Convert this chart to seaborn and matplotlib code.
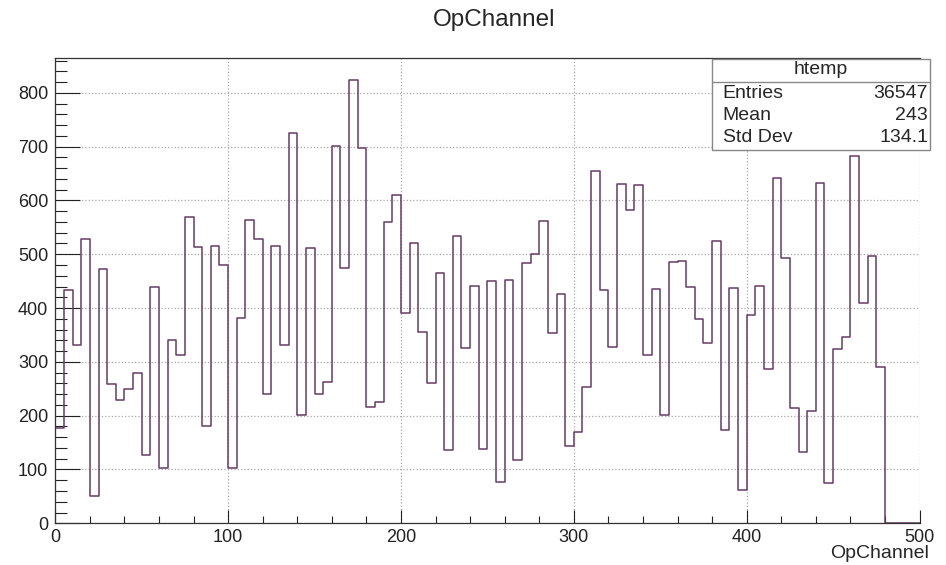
import numpy as np
import pandas as pd
import seaborn as sns
import matplotlib.pyplot as plt
from matplotlib.patches import Rectangle
from matplotlib.ticker import MultipleLocator

# bin contents of OpChannel, 5 channels per bin, 0..500
bin_width = 5
bin_low = np.arange(0, 500, bin_width)
counts = [
    178, 434, 331, 529, 51, 473, 259, 230, 250, 280,
    126, 439, 103, 340, 312, 569, 513, 181, 516, 480,
    103, 381, 564, 529, 241, 515, 331, 725, 201, 511,
    241, 263, 702, 475, 823, 698, 217, 226, 560, 611,
    391, 520, 355, 260, 465, 137, 533, 325, 441, 139,
    451, 76, 452, 118, 483, 501, 562, 353, 427, 144,
    169, 254, 654, 433, 327, 631, 582, 629, 313, 436,
    201, 486, 488, 439, 379, 335, 525, 173, 438, 61,
    388, 441, 287, 642, 493, 215, 132, 209, 632, 75,
    324, 346, 683, 410, 496, 290, 0, 0, 0, 0,
]
stat_names = ["Entries", "Mean", "Std Dev"]
stat_values = ["36547", "243", "134.1"]

hist_df = pd.DataFrame({"OpChannel": bin_low + bin_width / 2, "count": counts})

sns.set_style("ticks")
plt.rcParams['font.family'] = ['Liberation Sans', 'DejaVu Sans']

fig = plt.figure(figsize=(9.46, 5.65), dpi=100)
ax = fig.add_axes([55.3 / 946, 1 - 523.3 / 565, 864.2 / 946, (523.3 - 58.3) / 565])

# bins passed as a list: seaborn compares bins == "auto" when weights are used
sns.histplot(data=hist_df, x="OpChannel", weights="count",
             bins=list(range(0, 500 + bin_width, bin_width)),
             element="step", fill=False, color="#673a67", linewidth=1.1, ax=ax)

ax.set_xlim(0, 500)
ax.set_ylim(0, 1.05 * max(counts))
ax.set_xlabel("")
ax.set_ylabel("")

ax.xaxis.set_major_locator(MultipleLocator(100))
ax.xaxis.set_minor_locator(MultipleLocator(20))
ax.yaxis.set_major_locator(MultipleLocator(100))
ax.yaxis.set_minor_locator(MultipleLocator(20))

ax.tick_params(axis="both", which="both", direction="in", colors="#222222",
               labelsize=13, width=0.8)
ax.tick_params(axis="y", which="major", length=18, pad=5)
ax.tick_params(axis="y", which="minor", length=8.5)
ax.tick_params(axis="x", which="major", length=9.5, pad=4)
ax.tick_params(axis="x", which="minor", length=5)

ax.grid(True, which="major", linestyle=":", color="#a8a8a8", linewidth=0.9)
ax.set_axisbelow(True)

sns.despine(ax=ax, top=False, right=True)
for s in ("left", "bottom", "top"):
    ax.spines[s].set_color("#333333")
    ax.spines[s].set_linewidth(0.9)

# title and axis title, ROOT style
fig.text(494 / 946, 1 - 20 / 565, "OpChannel", ha="center", va="center", fontsize=17.5)
fig.text(929 / 946, 1 - 553 / 565, "OpChannel", ha="right", va="center", fontsize=14)

# stat box
bx0, bx1 = 712 / 946, 930 / 946
by_top, by_bot, by_sep = 1 - 59 / 565, 1 - 150 / 565, 1 - 81.7 / 565
fig.patches.append(Rectangle((bx0, by_bot), bx1 - bx0, by_top - by_bot,
                             transform=fig.transFigure, facecolor="white",
                             edgecolor="#888888", linewidth=1.0, zorder=5))
fig.lines.append(plt.Line2D([bx0, bx1], [by_sep, by_sep], transform=fig.transFigure,
                            color="#888888", linewidth=1.0, zorder=6))
fig.text((bx0 + bx1) / 2, 1 - 70 / 565, "htemp", ha="center", va="center",
         fontsize=14, zorder=7)
for i, (name, val) in enumerate(zip(stat_names, stat_values)):
    yy = 1 - (93.3 + i * 22.3) / 565
    fig.text(722.5 / 946, yy, name, ha="left", va="center", fontsize=14, zorder=7)
    fig.text(928 / 946, yy, val, ha="right", va="center", fontsize=14, zorder=7)

fig.savefig("out.png", dpi=100)
